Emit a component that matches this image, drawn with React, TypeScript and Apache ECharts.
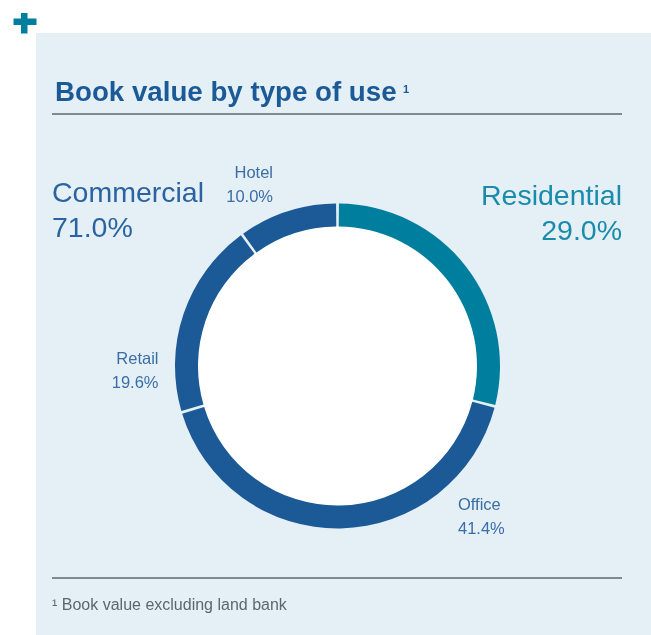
import React, { useEffect, useRef } from "react";
import * as echarts from "echarts";

const title = "Book value by type of use";
const footnote = "¹ Book value excluding land bank";
const categories = ["Residential", "Office", "Retail", "Hotel"];
const values = [29.0, 41.4, 19.6, 10.0];
const groupNames = ["Commercial", "Residential"];
const groupValues = [71.0, 29.0];

const TEAL = "#007e9e";
const BLUE = "#1b5a96";
const FONT = "'Liberation Sans', Arial, sans-serif";

export default function App() {
  const ref = useRef<HTMLDivElement>(null);
  useEffect(() => {
    document.body.style.margin = "0";
    const chart = echarts.init(ref.current!, null, { renderer: "svg" });
    const cx = 337.5;
    const cy = 366;
    const fmt = (v: number) => v.toFixed(1) + "%";
    const mid = (baseline: number, size: number) => baseline - size * 0.35;

    const smallPos: Record<string, { x: number; y: number; align: string }> = {
      Hotel: { x: 273, y: 177.5, align: "right" },
      Retail: { x: 158.5, y: 364, align: "right" },
      Office: { x: 458, y: 510, align: "left" },
    };
    const smallTexts: any[] = [];
    categories.forEach((c, i) => {
      const p = smallPos[c];
      if (!p) return;
      smallTexts.push({
        type: "text", x: p.x, y: mid(p.y, 16.5),
        style: { text: c, font: `16.5px ${FONT}`, fill: "#3a6ea5", align: p.align, verticalAlign: "middle" },
      });
      smallTexts.push({
        type: "text", x: p.x, y: mid(p.y + 24, 16.5),
        style: { text: fmt(values[i]), font: `16.5px ${FONT}`, fill: "#3a6ea5", align: p.align, verticalAlign: "middle" },
      });
    });

    const bigPos = [
      { x: 52, y: 201.5, align: "left", color: "#2a63a0" },
      { x: 622, y: 205, align: "right", color: "#1a8bab" },
    ];
    const bigTexts: any[] = [];
    groupNames.forEach((g, i) => {
      const p = bigPos[i];
      bigTexts.push({
        type: "text", x: p.x, y: mid(p.y, 28.5),
        style: { text: g, font: `28.5px ${FONT}`, fill: p.color, align: p.align, verticalAlign: "middle" },
      });
      bigTexts.push({
        type: "text", x: p.x, y: mid(p.y + 35, 28.5),
        style: { text: fmt(groupValues[i]), font: `28.5px ${FONT}`, fill: p.color, align: p.align, verticalAlign: "middle" },
      });
    });

    chart.setOption({
      animation: false,
      graphic: [
        { type: "rect", z: -10, shape: { x: 36, y: 33, width: 615, height: 602 }, style: { fill: "#e4eff6" } },
        { type: "rect", shape: { x: 13.5, y: 18.5, width: 23, height: 6.5 }, style: { fill: TEAL } },
        { type: "rect", shape: { x: 21, y: 13, width: 6.5, height: 20.5 }, style: { fill: TEAL } },
        {
          type: "text", x: 55, y: mid(101, 27.7),
          style: { text: title, font: `bold 27.7px ${FONT}`, fill: BLUE, align: "left", verticalAlign: "middle" },
        },
        {
          type: "text", x: 403, y: 89,
          style: { text: "1", font: `bold 11px ${FONT}`, fill: BLUE, align: "left", verticalAlign: "middle" },
        },
        { type: "line", shape: { x1: 52, y1: 114, x2: 622, y2: 114 }, style: { stroke: "#5c6872", lineWidth: 1.3 } },
        { type: "line", shape: { x1: 52, y1: 578, x2: 622, y2: 578 }, style: { stroke: "#5c6872", lineWidth: 1.3 } },
        {
          type: "text", x: 52, y: mid(610, 16),
          style: { text: footnote, font: `16px ${FONT}`, fill: "#5d676e", align: "left", verticalAlign: "middle" },
        },
        { type: "circle", shape: { cx, cy, r: 140 }, style: { fill: "#ffffff" } },
        ...bigTexts,
        ...smallTexts,
      ],
      series: [
        {
          type: "pie",
          center: [cx, cy],
          radius: [139.5, 162.5],
          startAngle: 90,
          clockwise: true,
          padAngle: 1,
          silent: true,
          label: { show: false },
          labelLine: { show: false },
          data: categories.map((c, i) => ({
            name: c,
            value: values[i],
            itemStyle: { color: i === 0 ? TEAL : BLUE },
          })),
        },
      ],
    });
    return () => chart.dispose();
  }, []);
  return <div ref={ref} style={{ position: "fixed", left: 0, top: 0, width: 651, height: 635 }} />;
}
